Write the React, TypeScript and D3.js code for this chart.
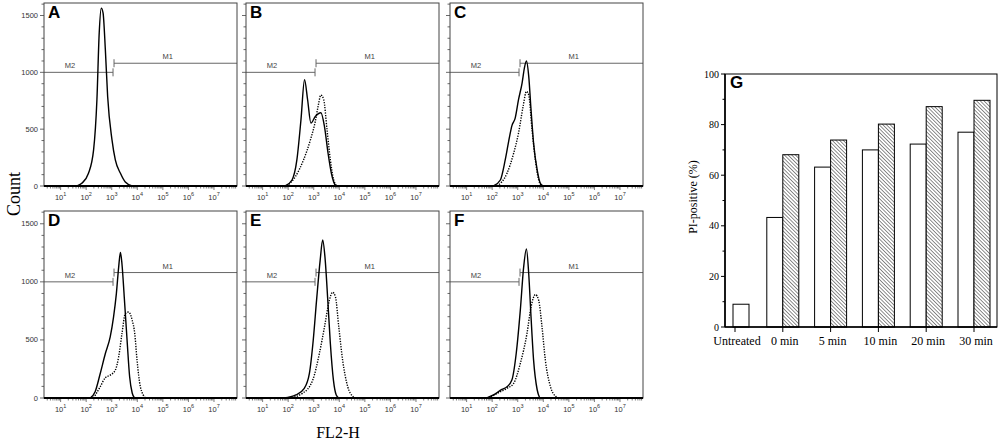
import { useEffect, useRef } from "react"
import * as d3 from "d3"

// flow histograms: [log10 FL2-H, count]
const histA = [[1.64, 0], [1.83, 24], [2.09, 112], [2.29, 318], [2.42, 759], [2.51, 1347], [2.59, 1565], [2.66, 1523], [2.75, 1200], [2.84, 788], [3.01, 406], [3.14, 229], [3.34, 112], [3.53, 35], [3.8, 0]]
const histBSolid = [[1.88, 0], [2.15, 53], [2.34, 229], [2.5, 582], [2.64, 935], [2.76, 759], [2.89, 553], [3.06, 612], [3.28, 645], [3.42, 523], [3.56, 288], [3.69, 112], [3.85, 6], [3.92, 0]]
const histBDotted = [[1.95, 0], [2.28, 82], [2.6, 229], [2.87, 406], [3.06, 567], [3.17, 700], [3.28, 800], [3.39, 759], [3.52, 494], [3.65, 229], [3.78, 53], [3.91, 0]]
const histCSolid = [[2.05, 0], [2.32, 53], [2.51, 229], [2.68, 435], [2.77, 529], [2.9, 597], [3.03, 759], [3.17, 906], [3.26, 1038], [3.34, 1100], [3.43, 965], [3.52, 671], [3.62, 376], [3.76, 141], [3.89, 20], [4.0, 0]]
const histCDotted = [[2.19, 0], [2.58, 112], [2.84, 288], [3.03, 465], [3.21, 700], [3.34, 832], [3.43, 800], [3.56, 494], [3.69, 229], [3.82, 53], [3.95, 0]]
const histDSolid = [[2.16, 0], [2.35, 54], [2.55, 211], [2.75, 383], [2.94, 526], [3.07, 697], [3.18, 897], [3.27, 1125], [3.34, 1254], [3.4, 1154], [3.49, 868], [3.6, 497], [3.7, 183], [3.8, 43], [3.89, 0]]
const histDDotted = [[2.29, 0], [2.55, 97], [2.75, 175], [2.94, 197], [3.14, 240], [3.27, 354], [3.4, 554], [3.53, 726], [3.66, 740], [3.8, 669], [3.9, 554], [3.99, 326], [4.12, 97], [4.32, 0]]
const histESolid = [[1.84, 0], [2.3, 26], [2.63, 83], [2.83, 211], [2.98, 497], [3.11, 840], [3.25, 1183], [3.35, 1360], [3.44, 1211], [3.55, 840], [3.65, 469], [3.77, 154], [3.88, 26], [3.98, 0]]
const histEDotted = [[2.04, 0], [2.56, 40], [2.96, 154], [3.22, 383], [3.42, 611], [3.61, 840], [3.74, 911], [3.85, 869], [3.98, 611], [4.13, 326], [4.33, 97], [4.53, 14], [4.66, 0]]
const histFSolid = [[1.79, 0], [2.05, 26], [2.38, 74], [2.58, 97], [2.77, 154], [2.94, 383], [3.1, 754], [3.23, 1125], [3.34, 1283], [3.43, 1068], [3.52, 697], [3.62, 326], [3.76, 71], [3.86, 0]]
const histFDotted = [[1.86, 0], [2.32, 54], [2.58, 83], [2.84, 126], [3.1, 297], [3.36, 554], [3.52, 783], [3.69, 891], [3.82, 840], [3.95, 611], [4.08, 326], [4.28, 97], [4.48, 14], [4.61, 0]]

const panelLabels = ["A", "B", "C", "D", "E", "F"]
const solidSeries = [histA, histBSolid, histCSolid, histDSolid, histESolid, histFSolid]
const dottedSeries = [null, histBDotted, histCDotted, histDDotted, histEDotted, histFDotted]

const countTicks = [0, 500, 1000, 1500]
const decadeTicks = [1, 2, 3, 4, 5, 6, 7]
const gateEdge = 3.05 // log10
const gateM1Level = 1080
const gateM2Level = 1000

// panel G
const categories = ["Untreated", "0 min", "5 min", "10 min", "20 min", "30 min"]
const openBars = [9, 43.3, 63.2, 70, 72.3, 77]
const hatchedBars = [null, 68.1, 73.9, 80.2, 87.1, 89.6]
const percentTicks = [0, 20, 40, 60, 80, 100]

const sans = "Arial, 'Liberation Sans', sans-serif"
const serif = "'Times New Roman', 'Liberation Serif', serif"

const App = () => {
	const svgRef = useRef(null)

	useEffect(() => {
		document.body.style.margin = "0"
		const svg = d3.select(svgRef.current)
		svg.selectAll("*").remove()

		const defs = svg.append("defs")
		const pat = defs
			.append("pattern")
			.attr("id", "hatch")
			.attr("width", 2.6)
			.attr("height", 2.6)
			.attr("patternUnits", "userSpaceOnUse")
			.attr("patternTransform", "rotate(-45)")
		pat.append("rect").attr("width", 2.6).attr("height", 2.6).attr("fill", "#fff")
		pat.append("line").attr("x1", 0).attr("y1", 0).attr("x2", 0).attr("y2", 2.6)
			.attr("stroke", "#333").attr("stroke-width", 1.1)

		// ---- histograms ----
		const colX = [44, 246, 450]
		const rowTop = [3, 211]
		const rowH = [183, 187]
		const panelW = 193

		panelLabels.forEach((label, i) => {
			const col = i % 3
			const row = Math.floor(i / 3)
			const x0 = colX[col]
			const y0 = rowTop[row]
			const h = rowH[row]

			const x = d3.scaleLog().domain([10 ** 0.35, 10 ** 7.9]).range([0, panelW])
			const y = d3.scaleLinear().domain([0, 1610]).range([h, 0])

			const g = svg.append("g").attr("transform", `translate(${x0},${y0})`)

			// y ticks every 100 counts
			d3.range(0, 1601, 100).forEach((v) => {
				const len = v % 500 === 0 ? 4 : 2.5
				g.append("line")
					.attr("x1", -len).attr("x2", 0)
					.attr("y1", y(v)).attr("y2", y(v))
					.attr("stroke", "#444").attr("stroke-width", 0.8)
			})
			if (col === 0) {
				countTicks.forEach((v) => {
					g.append("text")
						.attr("x", -6).attr("y", y(v) + 2.5)
						.attr("text-anchor", "end")
						.attr("font-family", sans).attr("font-size", 7.5)
						.attr("fill", "#333")
						.text(v)
				})
			}

			// x minor log ticks
			for (let d = 0; d <= 7; d++) {
				for (let k = 1; k <= 9; k++) {
					const v = k * 10 ** d
					if (v < x.domain()[0] || v > x.domain()[1]) continue
					const len = k === 1 ? 4 : 2.5
					g.append("line")
						.attr("x1", x(v)).attr("x2", x(v))
						.attr("y1", h).attr("y2", h + len)
						.attr("stroke", "#444").attr("stroke-width", 0.7)
				}
			}
			decadeTicks.forEach((e) => {
				const t = g.append("text")
					.attr("x", x(10 ** e)).attr("y", h + 14)
					.attr("text-anchor", "middle")
					.attr("font-family", sans).attr("font-size", 7.5)
					.attr("fill", "#333")
				t.append("tspan").text("10")
				t.append("tspan").attr("dy", -4).attr("font-size", 5.5).text(e)
			})

			// gates
			const gx = x(10 ** gateEdge)
			const gateColor = "#666"
			g.append("line").attr("x1", 0).attr("x2", gx)
				.attr("y1", y(gateM2Level)).attr("y2", y(gateM2Level))
				.attr("stroke", gateColor).attr("stroke-width", 1)
			g.append("line").attr("x1", gx).attr("x2", gx)
				.attr("y1", y(gateM2Level) - 4).attr("y2", y(gateM2Level) + 4)
				.attr("stroke", gateColor).attr("stroke-width", 1)
			g.append("line").attr("x1", gx + 1).attr("x2", panelW)
				.attr("y1", y(gateM1Level)).attr("y2", y(gateM1Level))
				.attr("stroke", gateColor).attr("stroke-width", 1)
			g.append("line").attr("x1", gx + 1).attr("x2", gx + 1)
				.attr("y1", y(gateM1Level) - 4).attr("y2", y(gateM1Level) + 4)
				.attr("stroke", gateColor).attr("stroke-width", 1)
			g.append("text").attr("x", x(10 ** 1.37)).attr("y", y(gateM2Level) - 4)
				.attr("text-anchor", "middle").attr("font-family", sans).attr("font-size", 7.5)
				.attr("fill", "#444").text("M2")
			g.append("text").attr("x", x(10 ** 5.19)).attr("y", y(gateM1Level) - 4)
				.attr("text-anchor", "middle").attr("font-family", sans).attr("font-size", 7.5)
				.attr("fill", "#444").text("M1")

			const line = d3.line<number[]>()
				.x((d) => x(10 ** d[0]))
				.y((d) => y(d[1]))
				.curve(d3.curveMonotoneX)

			const dotted = dottedSeries[i]
			if (dotted) {
				g.append("path").attr("d", line(dotted))
					.attr("fill", "none").attr("stroke", "#000")
					.attr("stroke-width", 1.4).attr("stroke-dasharray", "1.3,1.3")
			}
			g.append("path").attr("d", line(solidSeries[i]))
				.attr("fill", "none").attr("stroke", "#000").attr("stroke-width", 1.4)

			// frame
			g.append("rect").attr("width", panelW).attr("height", h)
				.attr("fill", "none").attr("stroke", "#444").attr("stroke-width", 1)
			g.append("line").attr("x1", 0).attr("x2", panelW).attr("y1", h).attr("y2", h)
				.attr("stroke", "#000").attr("stroke-width", 2)

			g.append("text").attr("x", 4).attr("y", 15)
				.attr("font-family", sans).attr("font-weight", "bold").attr("font-size", 17)
				.attr("fill", "#000").text(label)
		})

		svg.append("text")
			.attr("transform", "translate(20,194) rotate(-90)")
			.attr("text-anchor", "middle")
			.attr("font-family", serif).attr("font-size", 18)
			.text("Count")
		svg.append("text")
			.attr("x", 338).attr("y", 438)
			.attr("text-anchor", "middle")
			.attr("font-family", serif).attr("font-size", 16)
			.text("FL2-H")

		// ---- panel G ----
		const gx0 = 725
		const gx1 = 997
		const gy0 = 74
		const gy1 = 327
		const xb = d3.scalePoint().domain(categories).range([735, 974])
		const yb = d3.scaleLinear().domain([0, 100]).range([gy1, gy0])
		const bw = 16
		const G = svg.append("g")

		categories.forEach((c, i) => {
			const cx = xb(c) as number
			const hv = hatchedBars[i]
			const ox = hv == null ? cx - 2 : cx - bw
			G.append("rect")
				.attr("x", ox).attr("y", yb(openBars[i]))
				.attr("width", bw).attr("height", yb(0) - yb(openBars[i]))
				.attr("fill", "#fff").attr("stroke", "#000").attr("stroke-width", 1)
			if (hv != null) {
				G.append("rect")
					.attr("x", cx).attr("y", yb(hv))
					.attr("width", bw).attr("height", yb(0) - yb(hv))
					.attr("fill", "url(#hatch)").attr("stroke", "#000").attr("stroke-width", 1)
			}
			G.append("line").attr("x1", cx).attr("x2", cx)
				.attr("y1", gy1).attr("y2", gy1 + 5)
				.attr("stroke", "#000").attr("stroke-width", 1)
			G.append("text").attr("x", cx + 2).attr("y", gy1 + 18)
				.attr("text-anchor", "middle")
				.attr("font-family", serif).attr("font-size", 12)
				.text(c)
		})

		d3.range(0, 101, 10).forEach((v) => {
			const len = v % 20 === 0 ? 4 : 2.5
			G.append("line").attr("x1", gx0 - len).attr("x2", gx0)
				.attr("y1", yb(v)).attr("y2", yb(v))
				.attr("stroke", "#000").attr("stroke-width", 1)
		})
		percentTicks.forEach((v) => {
			G.append("text").attr("x", gx0 - 6).attr("y", yb(v) + 3.5)
				.attr("text-anchor", "end")
				.attr("font-family", serif).attr("font-size", 10)
				.text(v)
		})

		G.append("rect").attr("x", gx0).attr("y", gy0)
			.attr("width", gx1 - gx0).attr("height", gy1 - gy0)
			.attr("fill", "none").attr("stroke", "#000").attr("stroke-width", 1)
		G.append("line").attr("x1", gx0).attr("x2", gx1).attr("y1", gy1).attr("y2", gy1)
			.attr("stroke", "#000").attr("stroke-width", 1.6)
		G.append("line").attr("x1", gx0).attr("x2", gx0).attr("y1", gy0).attr("y2", gy1)
			.attr("stroke", "#000").attr("stroke-width", 1.6)

		G.append("text").attr("x", gx0 + 5).attr("y", gy0 + 14)
			.attr("font-family", sans).attr("font-weight", "bold").attr("font-size", 17)
			.text("G")

		G.append("text")
			.attr("transform", `translate(697,197) rotate(-90)`)
			.attr("text-anchor", "middle")
			.attr("font-family", serif).attr("font-size", 12)
			.text("PI-positive (%)")
	}, [])

	return <svg ref={svgRef} width={1000} height={441} style={{ display: "block", background: "#fff" }}></svg>
}

export default App
